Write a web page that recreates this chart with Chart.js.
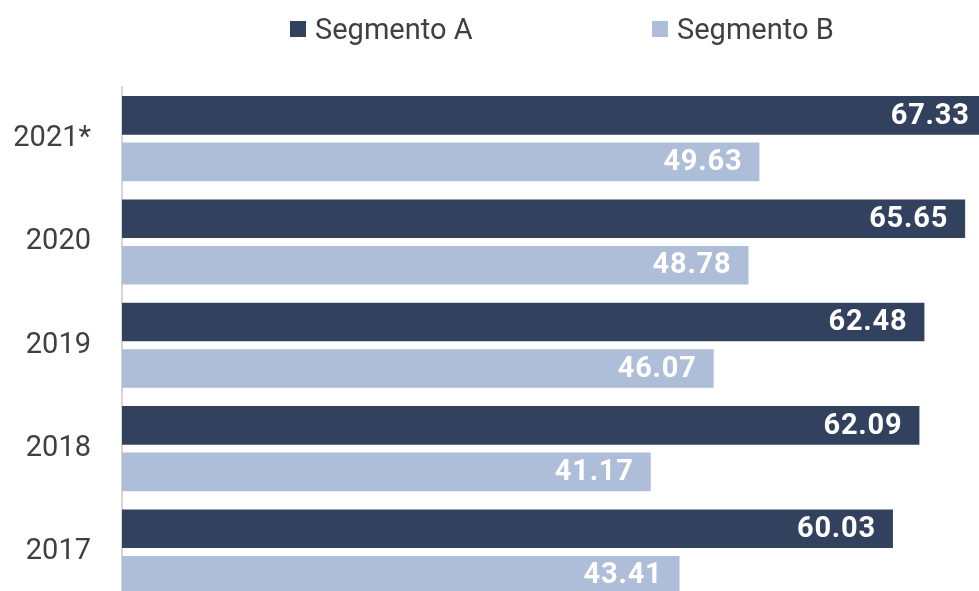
<!DOCTYPE html>
<html>
<head>
<meta charset="utf-8">
<script src="https://cdn.jsdelivr.net/npm/chart.js@4"></script>
<style>
  html, body { margin: 0; padding: 0; overflow: hidden; background: #fff; width: 979px; height: 591px; }
  #barChart { position: absolute; left: 0; top: 0; }
  .leg { position: absolute; top: 13px; display: flex; align-items: center; height: 32px;
         font-family: Roboto, sans-serif; font-size: 29px; color: #404040; white-space: nowrap; }
  .leg i { display: inline-block; width: 16px; height: 16px; margin-right: 9px; }
</style>
</head>
<body>
<canvas id="barChart" width="1021" height="621"></canvas>
<div class="leg" style="left:290px"><i style="background:#32425e"></i>Segmento A</div>
<div class="leg" style="left:652px"><i style="background:#aebdd8"></i>Segmento B</div>
<script>
const years = ["2021*", "2020", "2019", "2018", "2017"];
const segA = [67.33, 65.65, 62.48, 62.09, 60.03];
const segB = [49.63, 48.78, 46.07, 41.17, 43.41];

// numbers written near the end of each bar
const barValues = {
  id: "barValues",
  afterDatasetsDraw(chart) {
    const ctx = chart.ctx;
    ctx.save();
    ctx.font = "bold 29px Roboto";
    ctx.letterSpacing = "0.8px";
    ctx.fillStyle = "#ffffff";
    ctx.textAlign = "right";
    ctx.textBaseline = "middle";
    chart.data.datasets.forEach((ds, i) => {
      chart.getDatasetMeta(i).data.forEach((bar, j) => {
        ctx.fillText(ds.data[j].toFixed(2), bar.x - 17, bar.y + 1);
      });
    });
    ctx.restore();
  },
};

const chart = new Chart(document.getElementById("barChart"), {
  type: "bar",
  data: {
    labels: years,
    datasets: [
      { label: "Segmento A", data: segA, backgroundColor: "#32425e" },
      { label: "Segmento B", data: segB, backgroundColor: "#aebdd8" },
    ],
  },
  options: {
    indexAxis: "y",
    responsive: false,
    animation: false,
    devicePixelRatio: 1,
    categoryPercentage: 0.9,
    barPercentage: 0.83,
    layout: { padding: { top: 87, left: 0, right: 0, bottom: 0 } },
    plugins: {
      legend: { display: false },
      tooltip: { enabled: false },
    },
    scales: {
      x: {
        display: false,
        min: 0,
        max: 70,
      },
      y: {
        afterFit: (s) => { s.width = 122; },
        // tick length pushes the labels away from the axis line
        grid: { display: false, drawTicks: true, tickLength: 31 },
        border: { display: true, color: "#d6d6d6", width: 2 },
        ticks: {
          padding: 0,
          color: "#404040",
          font: { family: "Roboto", size: 29 },
        },
      },
    },
  },
  plugins: [barValues],
});
</script>
</body>
</html>
